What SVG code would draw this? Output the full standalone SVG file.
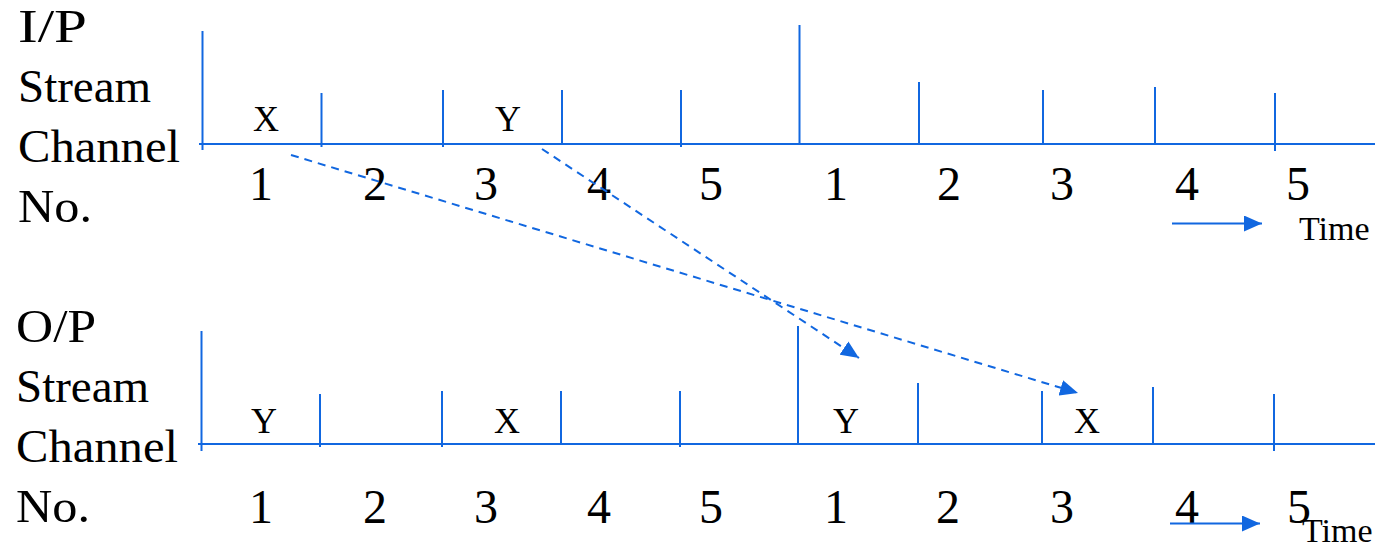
<svg xmlns="http://www.w3.org/2000/svg" width="1375" height="547" viewBox="0 0 1375 547">
<style>
.ax{stroke:#1167e0;stroke-width:2;fill:none}
.dash{stroke:#1167e0;stroke-width:2;fill:none;stroke-dasharray:8 6}
.lbl{font-family:"Liberation Serif",serif;font-size:47px;fill:#000}
.num{font-family:"Liberation Serif",serif;font-size:48px;fill:#000;text-anchor:middle}
.sym{font-family:"Liberation Serif",serif;font-size:36px;fill:#000;text-anchor:middle}
.time{font-family:"Liberation Serif",serif;font-size:34px;fill:#000}
</style>
<defs>
<marker id="ah" markerUnits="userSpaceOnUse" markerWidth="20" markerHeight="16" refX="18" refY="8" orient="auto">
<path d="M0,0 L18,8 L0,16 Z" fill="#1167e0"/>
</marker>
</defs>
<rect width="1375" height="547" fill="#fff"/>

<g id="ip-label" class="lbl">
<text x="18" y="42" textLength="69" lengthAdjust="spacingAndGlyphs">I/P</text>
<text x="18" y="102">Stream</text>
<text x="18" y="162" textLength="162" lengthAdjust="spacingAndGlyphs">Channel</text>
<text x="18" y="222" textLength="74" lengthAdjust="spacingAndGlyphs">No.</text>
</g>
<g id="op-label" class="lbl">
<text x="16" y="342" textLength="80" lengthAdjust="spacingAndGlyphs">O/P</text>
<text x="16" y="402">Stream</text>
<text x="16" y="462" textLength="162" lengthAdjust="spacingAndGlyphs">Channel</text>
<text x="16" y="522" textLength="74" lengthAdjust="spacingAndGlyphs">No.</text>
</g>

<g id="ip-axis" class="ax">
<line x1="199" y1="144" x2="1375" y2="144"/>
<line x1="202.5" y1="31" x2="202.5" y2="150"/>
<line x1="321.5" y1="93" x2="321.5" y2="147"/>
<line x1="443" y1="90" x2="443" y2="147"/>
<line x1="562" y1="90" x2="562" y2="144"/>
<line x1="681" y1="90" x2="681" y2="147"/>
<line x1="799.5" y1="25" x2="799.5" y2="144"/>
<line x1="919" y1="82" x2="919" y2="145"/>
<line x1="1043" y1="90" x2="1043" y2="144"/>
<line x1="1155" y1="87" x2="1155" y2="144"/>
<line x1="1275" y1="93" x2="1275" y2="151"/>
</g>
<g id="op-axis" class="ax">
<line x1="198" y1="444" x2="1375" y2="444"/>
<line x1="201.5" y1="331" x2="201.5" y2="451"/>
<line x1="320" y1="394" x2="320" y2="447"/>
<line x1="442" y1="391" x2="442" y2="447"/>
<line x1="561" y1="391" x2="561" y2="444"/>
<line x1="680" y1="391" x2="680" y2="447"/>
<line x1="798" y1="326" x2="798" y2="444"/>
<line x1="918" y1="383" x2="918" y2="445"/>
<line x1="1042" y1="391" x2="1042" y2="444"/>
<line x1="1153" y1="387" x2="1153" y2="444"/>
<line x1="1274" y1="394" x2="1274" y2="451"/>
</g>

<g id="ip-slots">
<text class="sym" x="266" y="131">X</text>
<text class="sym" x="508" y="131">Y</text>
<g class="num">
<text x="261" y="200">1</text><text x="375" y="200">2</text><text x="486" y="200">3</text><text x="599" y="200">4</text><text x="711" y="200">5</text>
<text x="836" y="200">1</text><text x="949" y="200">2</text><text x="1062" y="200">3</text><text x="1187" y="200">4</text><text x="1298" y="200">5</text>
</g>
</g>
<g id="op-slots">
<text class="sym" x="264" y="433">Y</text>
<text class="sym" x="507" y="433">X</text>
<text class="sym" x="846" y="433">Y</text>
<text class="sym" x="1087" y="433">X</text>
<g class="num">
<text x="261" y="523">1</text><text x="375" y="523">2</text><text x="486" y="523">3</text><text x="599" y="523">4</text><text x="711" y="523">5</text>
<text x="836" y="523">1</text><text x="948" y="523">2</text><text x="1062" y="523">3</text><text x="1187" y="523">4</text><text x="1299" y="523">5</text>
</g>
</g>

<g id="time-top">
<line class="ax" x1="1172" y1="223.5" x2="1262" y2="223.5" marker-end="url(#ah)"/>
<text class="time" x="1299" y="240">Time</text>
</g>
<g id="time-bottom">
<line class="ax" x1="1170" y1="523.5" x2="1260" y2="523.5" marker-end="url(#ah)"/>
<text class="time" x="1302" y="542">Time</text>
</g>

<g id="connectors">
<line class="dash" x1="291" y1="155" x2="1078" y2="393" marker-end="url(#ah)"/>
<line class="dash" x1="542" y1="149" x2="859" y2="358" marker-end="url(#ah)"/>
</g>
</svg>
